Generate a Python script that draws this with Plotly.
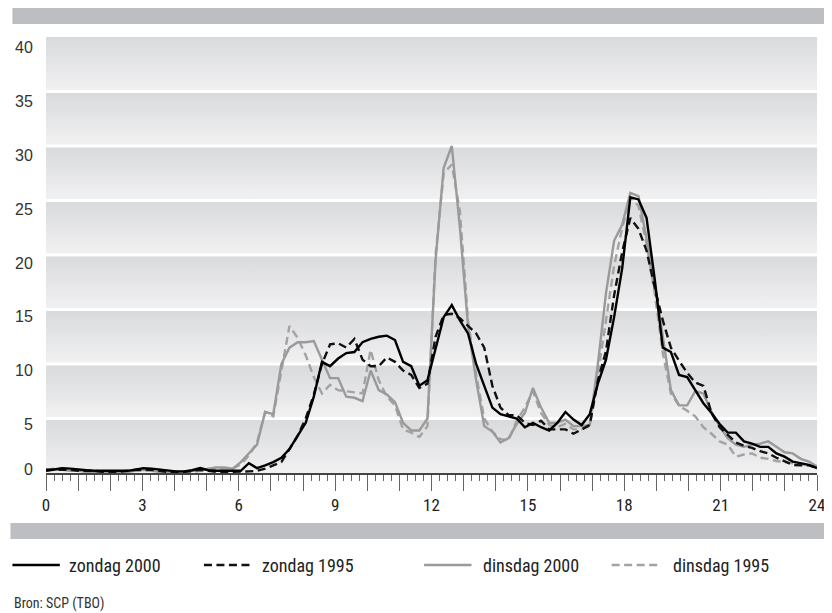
import plotly.graph_objects as go

# ---- data: 96 quarter-hour slots spread over 0..24 h ----
kwartier = list(range(96))
uren = [k * 24 / 95 for k in kwartier]

zondag_2000 = [0.2, 0.3, 0.45, 0.4, 0.3, 0.25, 0.2, 0.2, 0.15, 0.2,
               0.2, 0.3, 0.45, 0.4, 0.3, 0.2, 0.15, 0.15, 0.25, 0.45,
               0.25, 0.2, 0.2, 0.2, 0.2, 0.9, 0.45, 0.7, 1.0, 1.4,
               2.2, 3.4, 4.6, 7.0, 10.2, 9.8, 10.5, 11.0, 11.1, 12.0,
               12.3, 12.5, 12.6, 12.2, 10.2, 9.8, 8.0, 8.5, 11.5, 14.3,
               15.4, 14.0, 12.8, 10.0, 8.0, 6.0, 5.4, 5.2, 5.0, 4.2,
               4.6, 4.2, 3.9, 4.6, 5.6, 4.9, 4.4, 5.4, 8.2, 10.4,
               14.3, 18.8, 25.3, 25.1, 23.4, 17.8, 11.5, 11.1, 9.0, 8.8,
               7.6, 6.4, 5.5, 4.5, 3.7, 3.7, 2.9, 2.7, 2.4, 2.4,
               1.8, 1.5, 1.05, 0.9, 0.75, 0.45]

zondag_1995 = [0.3, 0.3, 0.3, 0.3, 0.2, 0.2, 0.2, 0.1, 0.1, 0.1,
               0.2, 0.3, 0.3, 0.3, 0.2, 0.1, 0.1, 0.1, 0.2, 0.3,
               0.2, 0.1, 0.1, 0.1, 0.1, 0.15, 0.2, 0.4, 0.7, 1.0,
               2.2, 3.4, 5.0, 7.2, 10.0, 11.8, 11.9, 11.5, 12.3, 10.4,
               9.8, 9.8, 10.6, 10.2, 9.4, 9.0, 7.8, 8.2, 12.5, 14.5,
               14.6, 14.2, 13.5, 12.8, 11.5, 8.0, 6.0, 5.3, 5.3, 4.6,
               4.4, 4.8, 4.0, 4.0, 4.0, 3.6, 4.0, 4.4, 8.5, 11.2,
               16.3, 20.3, 23.4, 22.4, 20.4, 17.0, 14.0, 11.5, 10.3, 9.2,
               8.3, 8.0, 5.5, 4.2, 3.5, 2.8, 2.5, 2.3, 2.0, 1.8,
               1.4, 1.1, 0.75, 0.7, 0.7, 0.45]

dinsdag_2000 = [0.2, 0.3, 0.3, 0.2, 0.2, 0.1, 0.1, 0.1, 0.1, 0.1,
                0.1, 0.2, 0.3, 0.2, 0.1, 0.1, 0.1, 0.1, 0.2, 0.2,
                0.4, 0.5, 0.5, 0.4, 1.0, 1.8, 2.6, 5.6, 5.4, 10.0,
                11.5, 12.0, 12.0, 12.1, 10.4, 8.7, 8.7, 7.0, 6.9, 6.6,
                9.4, 7.6, 7.2, 6.5, 4.6, 3.9, 3.9, 5.0, 19.5, 28.0,
                30.0, 22.5, 13.5, 8.5, 4.3, 3.8, 2.8, 3.2, 4.5, 5.5,
                7.8, 6.0, 4.6, 4.6, 4.9, 4.3, 4.3, 4.4, 10.0, 16.5,
                21.3, 22.8, 25.7, 25.4, 21.5, 17.5, 12.5, 7.6, 6.2, 6.2,
                7.5, 7.3, 5.6, 4.3, 3.2, 2.6, 2.4, 2.6, 2.7, 2.9,
                2.4, 1.9, 1.8, 1.3, 1.05, 0.6]

dinsdag_1995 = [0.3, 0.4, 0.4, 0.3, 0.2, 0.2, 0.1, 0.1, 0.1, 0.1,
                0.2, 0.2, 0.2, 0.3, 0.3, 0.2, 0.1, 0.1, 0.1, 0.2,
                0.3, 0.4, 0.4, 0.4, 0.8, 1.6, 2.8, 5.6, 5.2, 9.5,
                13.5, 12.4, 10.8, 8.8, 7.3, 8.1, 7.6, 7.5, 7.4, 7.3,
                11.3, 8.5, 7.0, 6.2, 4.0, 3.7, 3.3, 4.3, 20.0, 27.5,
                28.3, 24.0, 14.0, 9.0, 5.0, 3.8, 3.1, 3.0, 4.8, 6.0,
                7.5, 5.5, 4.4, 4.2, 4.5, 4.0, 4.0, 4.3, 9.0, 14.0,
                19.0, 22.5, 25.3, 24.5, 21.0, 16.5, 11.0, 7.3, 6.2, 5.7,
                5.2, 4.2, 3.6, 2.9, 2.6, 1.5, 1.7, 1.8, 1.4, 1.3,
                1.1, 1.0, 0.9, 0.85, 0.75, 0.6]

x_ticks = [0, 3, 6, 9, 12, 15, 18, 21, 24]
y_ticks = [5, 10, 15, 20, 25, 30, 35, 40]
bands = [0, 5, 10, 15, 20, 25, 30, 35]

series = [
    ("dinsdag 1995", dinsdag_1995, "#a3a3a3", "8px,4.5px"),
    ("dinsdag 2000", dinsdag_2000, "#9a9a9a", "solid"),
    ("zondag 1995", zondag_1995, "#111111", "8px,4.5px"),
    ("zondag 2000", zondag_2000, "#000000", "solid"),
]

# ---- layout geometry ----
# the page body has an 8px margin, so the figure starts at page (8, 8)
OFF = 8
W, H = 824, 605
L, T = 44 - OFF, 37 - OFF          # plot area at page x 44..825, y 37..473
PW, PH = 825 - 44, 473 - 37
R, B = W - L - PW, H - T - PH


def px(x):   # page pixel x -> paper
    return (x - OFF - L) / PW


def py(y):   # page pixel y -> paper
    return (T + PH - (y - OFF)) / PH


NARROW = "Liberation Sans Narrow, Roboto Condensed, DejaVu Sans Condensed, Arial Narrow, sans-serif"
REG = "Liberation Sans, Arial, sans-serif"

fig = go.Figure()

# gradient bands behind the data
gap = 0.13
for b in bands:
    lo = b + (gap if b > 0 else 0)
    hi = b + 5 - (gap if b < 35 else 0)
    fig.add_trace(go.Scatter(
        x=[0, 24, 24, 0, 0], y=[lo, lo, hi, hi, lo],
        mode="lines", line=dict(width=0), fill="toself",
        fillgradient=dict(type="vertical",
                          colorscale=[[0, "#f1f1f2"], [1, "#d9dadc"]]),
        hoverinfo="skip", showlegend=False))

for name, vals, color, dash in series:
    fig.add_trace(go.Scatter(
        x=uren, y=vals, mode="lines", name=name,
        line=dict(color=color, width=2.4, dash=dash),
        showlegend=False))

# helper trace so the label axis exists
fig.add_trace(go.Scatter(x=[None], y=[None], yaxis="y2", showlegend=False,
                         hoverinfo="skip"))

shapes = [
    dict(type="rect", xref="paper", yref="paper",
         x0=px(10), x1=px(840), y0=py(24), y1=py(8),
         fillcolor="#bdbec1", line=dict(width=0)),
    dict(type="rect", xref="paper", yref="paper",
         x0=px(8), x1=px(840), y0=py(539), y1=py(523),
         fillcolor="#bdbec1", line=dict(width=0)),
]
annotations = []
leg_y = 565
leg_items = [
    ("zondag 2000", "#000000", "solid", 10, 58, 65),
    ("zondag 1995", "#111111", "8px,4.5px", 204, 251, 261),
    ("dinsdag 2000", "#9a9a9a", "solid", 427, 475, 485),
    ("dinsdag 1995", "#a3a3a3", "8px,4.5px", 617, 665, 677),
]
for label, color, dash, x0, x1, tx in leg_items:
    shapes.append(dict(type="line", xref="paper", yref="paper",
                       x0=px(x0), x1=px(x1), y0=py(leg_y), y1=py(leg_y),
                       line=dict(color=color, width=2.6, dash=dash)))
    annotations.append(dict(xref="paper", yref="paper", x=px(tx), y=py(leg_y),
                            text=label, showarrow=False, xanchor="left",
                            yanchor="middle",
                            font=dict(family=NARROW, size=18, color="#222")))
annotations.append(dict(xref="paper", yref="paper", x=px(10), y=py(603),
                        text="Bron: SCP (TBO)", showarrow=False,
                        xanchor="left", yanchor="middle",
                        font=dict(family=NARROW, size=14, color="#333")))

fig.update_layout(
    width=W, height=H,
    margin=dict(l=L, r=R, t=T, b=B, pad=0),
    paper_bgcolor="white", plot_bgcolor="white",
    showlegend=False,
    shapes=shapes, annotations=annotations,
    xaxis=dict(range=[0, 24], tickmode="array",
               tickvals=list(range(25)),
               ticktext=[str(h) if h in x_ticks else "" for h in range(25)],
               ticks="outside", ticklen=16, tickwidth=1.2, tickcolor="#666",
               showline=True, linecolor="#444", linewidth=1.5,
               showgrid=False, zeroline=False, ticklabeloverflow="allow",
               minor=dict(dtick=0.25, ticks="outside", ticklen=6,
                          tickwidth=1.2, tickcolor="#666", showgrid=False),
               tickfont=dict(family=NARROW, size=17, color="#222")),
    yaxis=dict(range=[0, 40], tickmode="array", tickvals=[0],
               ticktext=["0"], ticks="outside", ticklen=9,
               tickcolor="rgba(0,0,0,0)", ticklabelshift=-4,
               showgrid=False, zeroline=False, showline=False,
               tickfont=dict(family=REG, size=16, color="#333")),
    yaxis2=dict(range=[0.497, 40.975], overlaying="y", side="left",
                tickmode="array", tickvals=y_ticks,
                ticktext=[str(v) for v in y_ticks],
                ticks="outside", ticklen=9, tickcolor="rgba(0,0,0,0)",
                showgrid=False, zeroline=False, showline=False,
                tickfont=dict(family=REG, size=16, color="#333")),
)

fig.write_html("out.html")
